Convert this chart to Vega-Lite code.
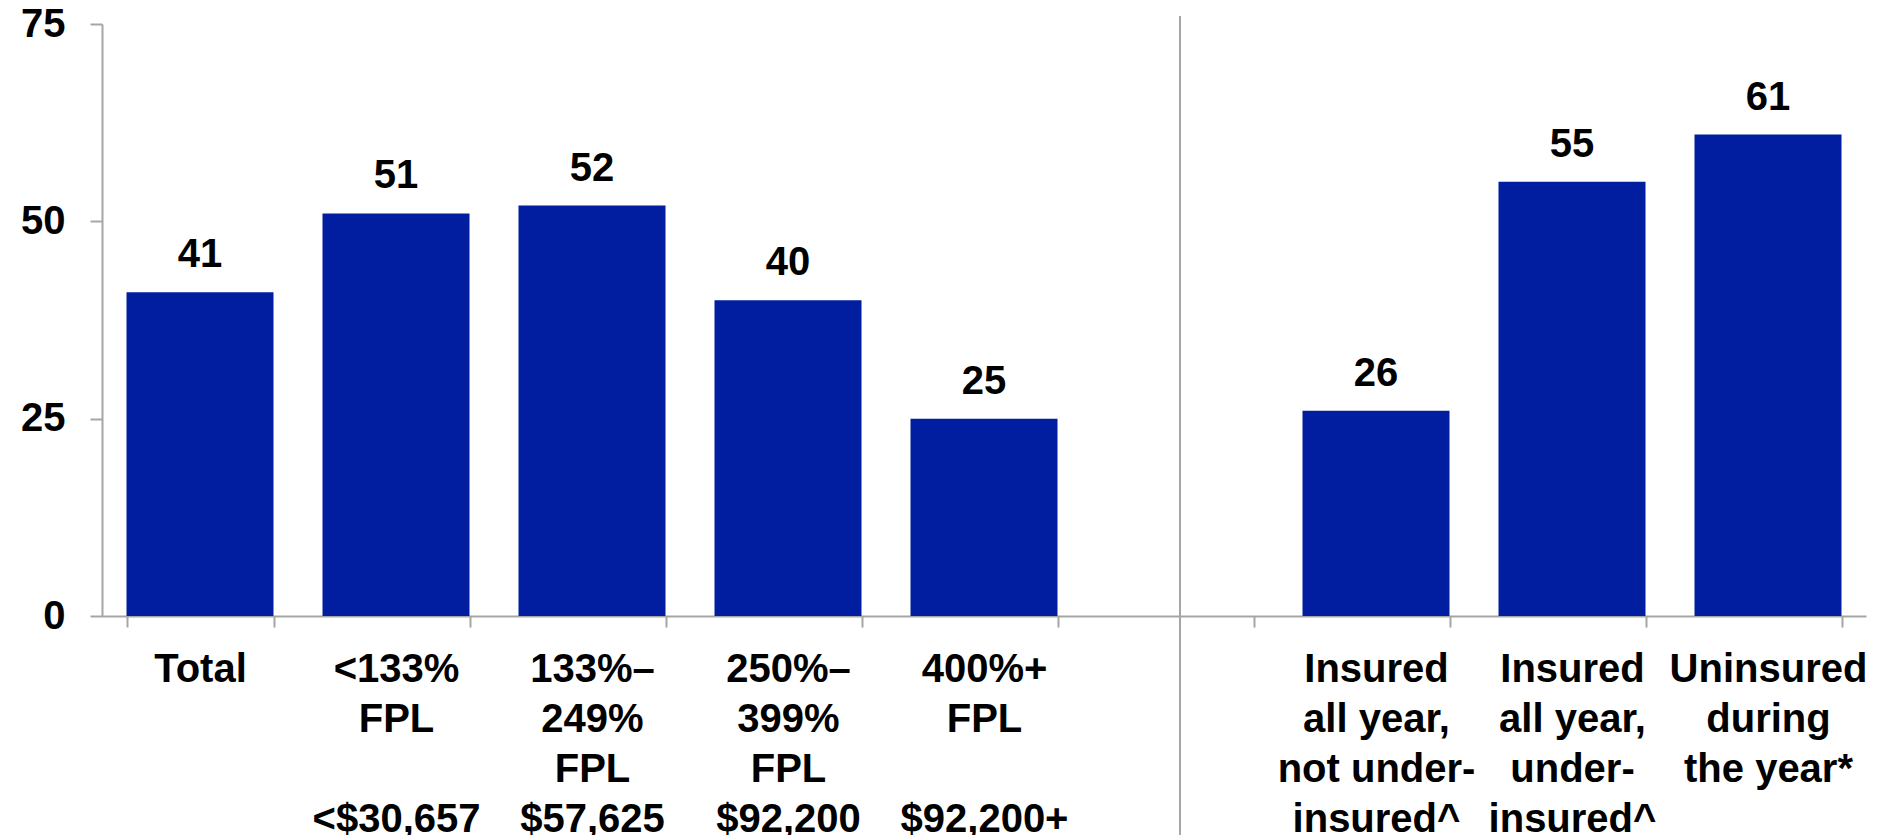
{
  "$schema": "https://vega.github.io/schema/vega-lite/v6.json",
  "width": 1764,
  "height": 592,
  "autosize": {"type": "none"},
  "padding": {"left": 102, "top": 24, "right": 11, "bottom": 219},
  "background": "white",
  "config": {"view": {"stroke": null}, "font": "Liberation Sans"},
  "data": {
    "values": [
      {"category": "Total", "value": 41},
      {"category": "<133%|FPL|\u2800|<$30,657", "value": 51},
      {"category": "133%–|249%|FPL|$57,625", "value": 52},
      {"category": "250%–|399%|FPL|$92,200", "value": 40},
      {"category": "400%+|FPL|\u2800|$92,200+", "value": 25},
      {"category": "Insured|all year,|not under-|insured^", "value": 26},
      {"category": "Insured|all year,|under-|insured^", "value": 55},
      {"category": "Uninsured|during|the year*", "value": 61}
    ]
  },
  "layer": [
    {
      "mark": {"type": "bar", "color": "#001E9F"},
      "encoding": {
        "x": {
          "field": "category",
          "type": "nominal",
          "sort": null,
          "scale": {
            "domain": ["Total", "<133%|FPL|\u2800|<$30,657", "133%–|249%|FPL|$57,625", "250%–|399%|FPL|$92,200", "400%+|FPL|\u2800|$92,200+", "gap", "Insured|all year,|not under-|insured^", "Insured|all year,|under-|insured^", "Uninsured|during|the year*"],
            "paddingInner": 0.25,
            "paddingOuter": 0.125
          },
          "axis": {
            "title": null,
            "labelAngle": 0,
            "labelExpr": "(!datum.value || datum.value == 'gap') ? '' : split(datum.value, '|')",
            "labelFontSize": 40,
            "labelFontWeight": "bold",
            "labelColor": "#000000",
            "labelLineHeight": 50,
            "labelPadding": 22,
            "labelLimit": 0,
            "tickBand": "extent",
            "tickSize": 11,
            "tickWidth": 2,
            "tickColor": "#A6A6A6",
            "domainColor": "#A6A6A6",
            "domainWidth": 2,
            "grid": false
          }
        },
        "y": {
          "field": "value",
          "type": "quantitative",
          "scale": {"domain": [0, 75], "nice": false},
          "axis": {
            "title": null,
            "values": [0, 25, 50, 75],
            "labelFontSize": 40,
            "labelFontWeight": "bold",
            "labelColor": "#000000",
            "labelPadding": 25,
            "tickSize": 12,
            "tickWidth": 2,
            "tickColor": "#A6A6A6",
            "domainColor": "#A6A6A6",
            "domainWidth": 2,
            "grid": false
          }
        }
      }
    },
    {
      "mark": {"type": "text", "fontSize": 40, "fontWeight": "bold", "baseline": "alphabetic", "dy": -25, "color": "#000000"},
      "encoding": {
        "x": {"field": "category", "type": "nominal", "sort": null},
        "y": {"field": "value", "type": "quantitative"},
        "text": {"field": "value", "type": "quantitative"}
      }
    },
    {
      "data": {"values": [{}]},
      "mark": {"type": "rule", "color": "#A6A6A6", "strokeWidth": 2},
      "encoding": {
        "x": {"datum": "gap"},
        "y": {"datum": 76},
        "y2": {"datum": -28}
      }
    }
  ]
}
